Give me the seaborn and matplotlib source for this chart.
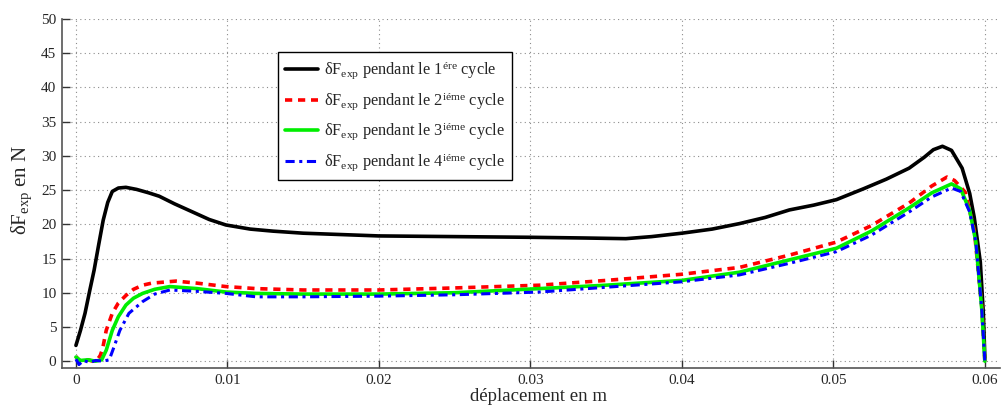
import numpy as np
import pandas as pd
import matplotlib
matplotlib.use("Agg")
import matplotlib.pyplot as plt
import seaborn as sns

# ---- data ----
x_c1 = [0, 0.0003, 0.0006, 0.0009, 0.0012, 0.0015, 0.0018, 0.0021, 0.0024, 0.0028,
        0.0033, 0.004, 0.0048, 0.0055, 0.0065, 0.0077, 0.0088, 0.0099, 0.0115, 0.013,
        0.015, 0.0175, 0.02, 0.025, 0.03, 0.0335, 0.0363, 0.038, 0.04, 0.042,
        0.0438, 0.0455, 0.0471, 0.0487, 0.0502, 0.052, 0.0535, 0.055, 0.056, 0.0566,
        0.0572, 0.0578, 0.0585, 0.059, 0.0593, 0.0597, 0.0599, 0.06]
y_c1 = [2.3, 4.5, 7.0, 10.2, 13.3, 17.0, 20.6, 23.2, 24.8, 25.3,
        25.4, 25.1, 24.6, 24.1, 23.0, 21.8, 20.7, 19.9, 19.3, 19.0,
        18.7, 18.5, 18.3, 18.2, 18.1, 18.0, 17.9, 18.2, 18.7, 19.3,
        20.1, 21.0, 22.1, 22.8, 23.6, 25.2, 26.6, 28.2, 29.8, 30.9,
        31.4, 30.8, 28.2, 24.5, 21.0, 14.5, 7.0, 0.5]

x_c2 = [0, 0.0002, 0.0005, 0.0008, 0.0011, 0.0014, 0.0016, 0.00176, 0.002, 0.0024,
        0.0028, 0.0033, 0.0038, 0.0044, 0.005, 0.0066, 0.008, 0.0099, 0.0119, 0.015,
        0.02, 0.025, 0.0306, 0.035, 0.04, 0.0438, 0.0471, 0.0502, 0.0525, 0.055,
        0.0565, 0.0575, 0.058, 0.0587, 0.0593, 0.0598, 0.06]
y_c2 = [0.7, 0.1, 0.0, 0.2, 0.0, 0.2, 0.8, 1.8, 4.5, 7.0,
        8.5, 9.6, 10.5, 11.1, 11.4, 11.7, 11.4, 10.9, 10.6, 10.4,
        10.4, 10.7, 11.1, 11.8, 12.7, 13.7, 15.5, 17.4, 19.8, 23.1,
        25.6, 26.9, 26.4, 24.7, 19.2, 7.9, 0.0]

x_c3 = [0, 0.0003, 0.0008, 0.0013, 0.0017, 0.002, 0.0024, 0.0028, 0.0033, 0.0038,
        0.0044, 0.0052, 0.0062, 0.008, 0.0099, 0.0119, 0.015, 0.02, 0.025, 0.0306,
        0.035, 0.04, 0.0438, 0.0471, 0.0502, 0.0525, 0.055, 0.0565, 0.0578, 0.0584,
        0.059, 0.0594, 0.0598, 0.06]
y_c3 = [0.6, 0.1, 0.2, 0.0, 0.2, 1.6, 4.5, 6.5, 8.2, 9.2,
        9.9, 10.5, 10.9, 10.6, 10.1, 9.9, 9.8, 9.8, 10.0, 10.6,
        11.1, 11.8, 13.0, 14.8, 16.5, 19.0, 22.4, 24.6, 25.9, 25.2,
        22.0, 17.5, 7.5, 0.0]

x_c4 = [0, 0.0002, 0.0005, 0.0009, 0.0013, 0.0018, 0.0022, 0.0025, 0.0029, 0.0035,
        0.0044, 0.0052, 0.0062, 0.008, 0.0099, 0.0119, 0.015, 0.02, 0.025, 0.0306,
        0.035, 0.04, 0.0438, 0.0471, 0.0502, 0.0525, 0.055, 0.0565, 0.0578, 0.0584,
        0.059, 0.0594, 0.0598, 0.06]
y_c4 = [0.3, -0.5, 0.1, -0.2, 0.1, 0.0, 0.2, 2.0, 4.5, 7.0,
        8.7, 9.8, 10.4, 10.2, 9.9, 9.4, 9.4, 9.5, 9.7, 10.1,
        10.8, 11.6, 12.6, 14.3, 16.0, 18.4, 21.8, 24.0, 25.3, 24.8,
        21.8, 17.5, 7.5, 0.0]

labels = [
    r"δF$_{\mathrm{exp}}$ pendant le 1$^{\mathrm{ére}}$ cycle",
    r"δF$_{\mathrm{exp}}$ pendant le 2$^{\mathrm{iéme}}$ cycle",
    r"δF$_{\mathrm{exp}}$ pendant le 3$^{\mathrm{iéme}}$ cycle",
    r"δF$_{\mathrm{exp}}$ pendant le 4$^{\mathrm{iéme}}$ cycle",
]
x_ticks = [0, 0.01, 0.02, 0.03, 0.04, 0.05, 0.06]
x_tick_labels = ["0", "0.01", "0.02", "0.03", "0.04", "0.05", "0.06"]
y_ticks = [0, 5, 10, 15, 20, 25, 30, 35, 40, 45, 50]

# ---- style ----
sns.set_style("ticks")
plt.rcParams["font.family"] = ["Liberation Serif", "DejaVu Serif"]
plt.rcParams["mathtext.fontset"] = "custom"
plt.rcParams["mathtext.rm"] = "Liberation Serif"
plt.rcParams["mathtext.it"] = "Liberation Serif:italic"
plt.rcParams["mathtext.bf"] = "Liberation Serif:bold"

fig = plt.figure(figsize=(10.01, 4.05), dpi=100)
ax = fig.add_axes([62 / 1001, 37 / 405, 938 / 1001, 349 / 405])

series = [
    (x_c1, y_c1, "black", "-", 2.6),
    (x_c2, y_c2, "#ff0000", (0, (2.0, 1.6)), 2.6),
    (x_c3, y_c3, "#00ee00", "-", 2.6),
    (x_c4, y_c4, "#0000ff", (0, (3.0, 1.5, 1.0, 1.5)), 2.2),
]
for (xs, ys, col, ls, lw), lab in zip(series, labels):
    df = pd.DataFrame({"x": xs, "y": ys})
    sns.lineplot(data=df, x="x", y="y", ax=ax, color=col, linestyle=ls,
                 linewidth=lw, label=lab, estimator=None, sort=False)

ax.set_xlim(-0.00092, 0.0610)
ax.set_ylim(-1.0, 50)
ax.set_xticks(x_ticks)
ax.set_xticklabels(x_tick_labels)
ax.set_yticks(y_ticks)
ax.tick_params(direction="in", length=6, width=1, color="#333333",
               labelsize=11, pad=4)
ax.grid(True, linestyle=(0, (1, 3)), color="#8c8c8c", linewidth=0.8)
for s in ["top", "right"]:
    ax.spines[s].set_visible(False)
for s in ["left", "bottom"]:
    ax.spines[s].set_color("#555555")
    ax.spines[s].set_linewidth(1.2)

ax.set_xlabel("déplacement en m", fontsize=13.5)
ax.xaxis.set_label_coords(0.508, -0.056)
ax.set_ylabel(r"δF$_{\mathrm{exp}}$ en N", fontsize=15)
ax.yaxis.set_label_coords(-0.030, 0.51)

leg = ax.legend(loc="upper left", bbox_to_anchor=(0.230, 0.905), fontsize=11.8,
                frameon=True, fancybox=False, framealpha=1, edgecolor="black",
                handlelength=2.0, labelspacing=0.55, borderpad=0.45,
                handletextpad=0.35, borderaxespad=0.0)
leg.get_frame().set_linewidth(1.0)

fig.savefig("out.png", dpi=100)
